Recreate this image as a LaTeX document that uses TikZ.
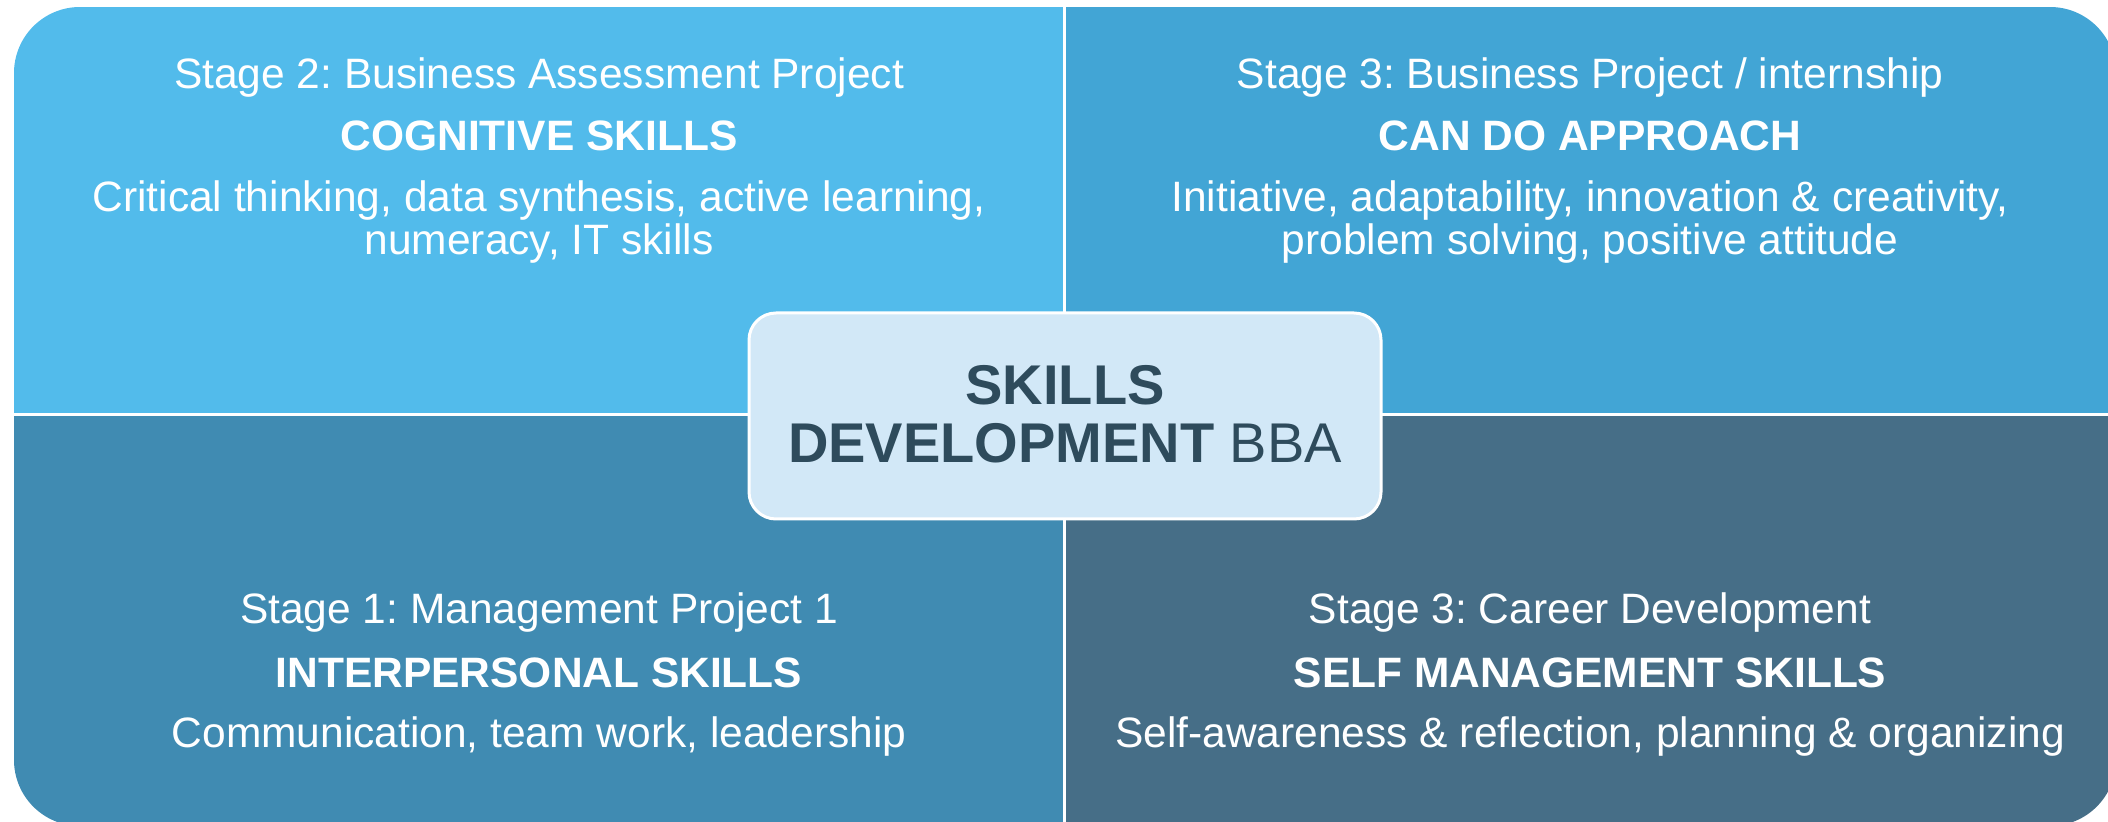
\documentclass[tikz,border=0pt]{standalone}
\usepackage{fontspec}
\setmainfont{Liberation Sans}
\frenchspacing
\definecolor{qTL}{HTML}{52BBEB}
\definecolor{qTR}{HTML}{42A5D5}
\definecolor{qBL}{HTML}{408BB2}
\definecolor{qBR}{HTML}{466E87}
\definecolor{hubfill}{HTML}{D2E8F7}
\definecolor{hubtext}{HTML}{2E4B5C}
\tikzset{
  quadtext/.style={text=white, inner sep=0pt, anchor=base,
    font=\fontsize{21.25}{25}\selectfont},
  quadhead/.style={quadtext, font=\fontsize{21.25}{25}\selectfont\bfseries},
  hubbox/.style={draw=white, line width=1.5pt, fill=hubfill,
    rounded corners=13.5pt, minimum width=316pt, minimum height=103pt,
    inner sep=0pt},
  hubline/.style={text=hubtext, inner sep=0pt, anchor=base,
    font=\fontsize{28}{29}\selectfont},
  divider/.style={white, line width=1.5pt}
}
\begin{document}
\begin{tikzpicture}[x=0.5pt,y=-0.5pt]
\useasboundingbox (0,0) rectangle (2108,822);
% four coloured quarters inside one rounded frame
\begin{scope}
  \clip[rounded corners=33pt] (14,7) rectangle (2116,826);
  \fill[qTL] (14,7) rectangle (1064,415);
  \fill[qTR] (1064,7) rectangle (2116,415);
  \fill[qBL] (14,415) rectangle (1064,826);
  \fill[qBR] (1064,415) rectangle (2116,826);
  \draw[divider] (1064,7) -- (1064,826);
  \draw[divider] (14,415) -- (2116,415);
\end{scope}

% top left
\node[quadtext] (tl1) at (539,89) {Stage 2: Business Assessment Project};
\node[quadhead] (tl2) at (539,151) {COGNITIVE SKILLS};
\node[quadtext] (tl3) at (539,212) {Critical thinking, data synthesis, active learning,};
\node[quadtext] (tl4) at (539,255) {numeracy, IT skills};

% top right
\node[quadtext] (tr1) at (1590,89) {Stage 3: Business Project / internship};
\node[quadhead] (tr2) at (1590,151) {CAN DO APPROACH};
\node[quadtext] (tr3) at (1590,212) {Initiative, adaptability, innovation \& creativity,};
\node[quadtext] (tr4) at (1590,255) {problem solving, positive attitude};

% bottom left
\node[quadtext] (bl1) at (539,624) {Stage 1: Management Project 1};
\node[quadhead] (bl2) at (539,687) {INTERPERSONAL SKILLS};
\node[quadtext] (bl3) at (539,747) {Communication, team work, leadership};

% bottom right
\node[quadtext] (br1) at (1590,624) {Stage 3: Career Development};
\node[quadhead] (br2) at (1590,687) {SELF MANAGEMENT SKILLS};
\node[quadtext] (br3) at (1590,747) {Self-awareness \& reflection, planning \& organizing};

% central hub
\node[hubbox] (hub) at (1065,416) {};
\node[hubline] (hub1) at (1065,405) {\bfseries SKILLS};
\node[hubline] (hub2) at (1065,463) {\bfseries DEVELOPMENT\mdseries\ BBA};
\end{tikzpicture}
\end{document}
